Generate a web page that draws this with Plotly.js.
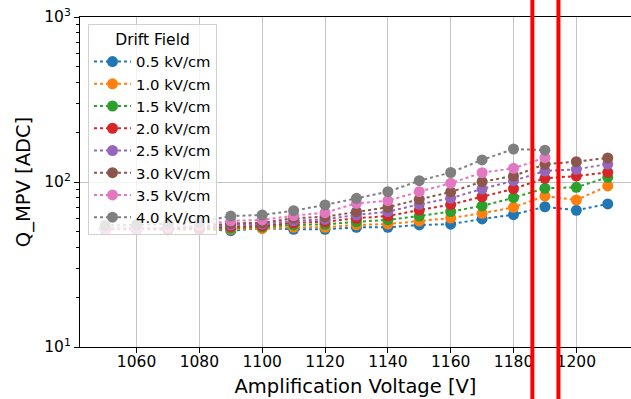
<!DOCTYPE html>
<html>
<head>
<meta charset="utf-8">
<script src="https://cdn.plot.ly/plotly-3.0.1.min.js"></script>
<style>
  html, body { margin: 0; padding: 0; overflow: hidden; background: #ffffff; }
  #chart { width: 631px; height: 399px; }
</style>
</head>
<body>
<div id="chart"></div>
<script>
// Amplification voltages [V]
const voltages = [1050, 1060, 1070, 1080, 1090, 1100, 1110, 1120, 1130, 1140, 1150, 1160, 1170, 1180, 1190, 1200, 1210];

// Series names (legend)
const fieldNames = ["0.5 kV/cm", "1.0 kV/cm", "1.5 kV/cm", "2.0 kV/cm", "2.5 kV/cm", "3.0 kV/cm", "3.5 kV/cm", "4.0 kV/cm"];

// Q_MPV [ADC] per drift field
const q05 = [52, 52, 51.8, 52, 50.7, 52.5, 51.7, 51.7, 53.1, 53.1, 54.9, 55.5, 59.7, 63.4, 70.8, 67.4, 73.6];
const q10 = [52, 51.8, 51.3, 51.5, 51.7, 52.3, 53.1, 53.1, 54.9, 55.6, 58.0, 60.5, 64.6, 70.2, 82.2, 77.8, 94.6];
const q15 = [52, 52, 51.5, 52, 52.4, 53.3, 54.9, 55.4, 57.4, 58.9, 62.2, 66.2, 71.6, 80.3, 91.6, 92.9, 106.8];
const q20 = [51.5, 51.8, 52, 52.5, 53.6, 54.2, 56.6, 57.4, 60.3, 62.2, 67.6, 73.0, 81.4, 91.0, 105.3, 108.7, 114.5];
const q25 = [52, 52.3, 52.3, 53, 54.9, 55.5, 58.2, 59.4, 63.1, 66.1, 73.2, 79.8, 90.7, 101.8, 116.6, 119.4, 128.5];
const q30 = [52, 52.3, 52.5, 53.5, 56.1, 56.6, 60.3, 61.6, 66.1, 70.3, 78.5, 87.0, 100.4, 108.7, 128.0, 132.8, 140.0];
const q35 = [51.8, 52, 53, 54.5, 58.2, 58.9, 62.5, 65.2, 74.3, 77.1, 87.3, 98.4, 113.9, 121.0, 140.4, null, null];
const q40 = [54.5, 55, 55.5, 57, 62.2, 63.1, 67.0, 72.6, 79.6, 87.3, 101.8, 114.2, 136.0, 158.5, 156.0, null, null];

// Red vertical marker lines [V]
const vlines = [1186.0, 1194.3];

const allSeries = [q05, q10, q15, q20, q25, q30, q35, q40];
const colors = ["#1f77b4", "#ff7f0e", "#2ca02c", "#d62728", "#9467bd", "#8c564b", "#e377c2", "#7f7f7f"];

const traces = allSeries.map((ys, i) => ({
  x: voltages,
  y: ys,
  name: fieldNames[i],
  type: "scatter",
  mode: "lines+markers",
  connectgaps: false,
  line: { color: colors[i], width: 2, dash: "dot" },
  marker: { color: colors[i], size: 11, line: { width: 0 } },
  cliponaxis: true
}));

const FONT = "DejaVu Sans, Liberation Sans, sans-serif";

const minorVals = [];
[10, 100].forEach(d => { for (let k = 2; k <= 9; k++) minorVals.push(k * d); });

const layout = {
  width: 631,
  height: 399,
  margin: { l: 80, r: 0, t: 17, b: 52 },
  paper_bgcolor: "#ffffff",
  plot_bgcolor: "#ffffff",
  font: { family: FONT, color: "#000000" },
  showlegend: true,
  legend: {
    x: 0.0145, y: 0.978, xanchor: "left", yanchor: "top",
    bgcolor: "rgba(255,255,255,0.8)",
    bordercolor: "#d0d0d0", borderwidth: 1,
    itemwidth: 37,
    font: { family: FONT, size: 14.8, color: "#000000" },
    title: { text: "Drift Field", side: "top center", font: { family: FONT, size: 15.5, color: "#000000" } },
    tracegroupgap: 0
  },
  xaxis: {
    range: [1042, 1217.4],
    dtick: 20, tick0: 1060,
    showgrid: true, gridcolor: "#c4c4c4", gridwidth: 1,
    zeroline: false,
    showline: true, linecolor: "#000000", linewidth: 1, mirror: true,
    ticks: "outside", ticklen: 5, tickwidth: 1, tickcolor: "#000000",
    ticklabelstandoff: -5,
    tickfont: { family: FONT, size: 15.5, color: "#000000" },
    title: { text: "Amplification Voltage [V]", font: { family: FONT, size: 19.5, color: "#000000" }, standoff: 9 }
  },
  yaxis: {
    type: "log",
    range: [1, 3],
    tickmode: "array",
    tickvals: [10, 100, 1000],
    ticktext: ["10<sup>1</sup>", "10<sup>2</sup>", "10<sup>3</sup>"],
    showgrid: true, gridcolor: "#c4c4c4", gridwidth: 1,
    zeroline: false,
    showline: true, linecolor: "#000000", linewidth: 1, mirror: false,
    ticks: "outside", ticklen: 5, tickwidth: 1, tickcolor: "#000000",
    tickfont: { family: FONT, size: 15.5, color: "#000000" },
    minor: { tickmode: "array", tickvals: minorVals, ticks: "outside", ticklen: 3, tickwidth: 1, tickcolor: "#000000", showgrid: false },
    title: { text: "Q_MPV [ADC]", font: { family: FONT, size: 19.5, color: "#000000" }, standoff: 8 }
  },
  shapes: vlines.map(v => ({
    type: "line", xref: "x", yref: "paper",
    x0: v, x1: v, y0: -0.2, y1: 1.1,
    line: { color: "#ff0000", width: 4 },
    layer: "above"
  }))
};

Plotly.newPlot("chart", traces, layout, { displayModeBar: false, staticPlot: true });
</script>
</body>
</html>
